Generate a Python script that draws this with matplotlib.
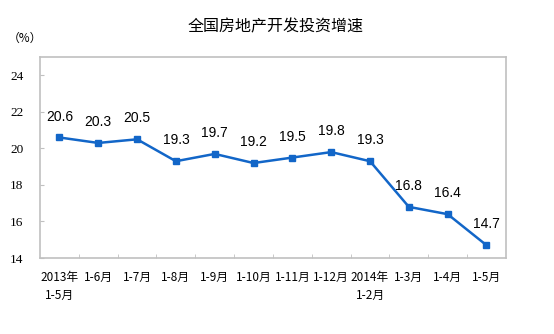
import matplotlib
matplotlib.use("Agg")
import matplotlib.pyplot as plt
import numpy as np

plt.rcParams['font.family'] = ['Noto Sans CJK SC', 'DejaVu Sans']

# data
labels = ["2013年\n1-5月", "1-6月", "1-7月", "1-8月", "1-9月", "1-10月",
          "1-11月", "1-12月", "2014年\n1-2月", "1-3月", "1-4月", "1-5月"]
values = [20.6, 20.3, 20.5, 19.3, 19.7, 19.2, 19.5, 19.8, 19.3, 16.8, 16.4, 14.7]
yticks = [14, 16, 18, 20, 22, 24]

fig = plt.figure(figsize=(5.54, 3.34), dpi=100)
ax = fig.add_axes([0.0722, 0.2275, 0.841, 0.6015])

x = np.arange(len(values))
color = "#1266c8"
ax.plot(x, values, color=color, lw=1.8, marker="s", ms=4.8, mec=color, mfc=color)

for xi, v in zip(x, values):
    ax.annotate(f"{v:.1f}", (xi, v), xytext=(0, 10), textcoords="offset points",
                ha="center", va="bottom", fontsize=10, color="black",
                family=["Liberation Sans"])

ax.set_xlim(-0.5, len(values) - 0.5)
ax.set_ylim(14, 25)
ax.set_yticks(yticks)
ax.set_yticklabels([str(t) for t in yticks], family=["Liberation Serif"], fontsize=9.5)
ax.set_xticks(x)
ax.set_xticklabels(labels, fontsize=8.5, linespacing=1.5)
ax.set_xticks(np.arange(0.5, len(values) - 0.5, 1), minor=True)
ax.tick_params(axis="x", which="major", length=0, pad=9)
ax.tick_params(axis="x", which="minor", direction="in", length=3, color="#c0c0c0")
ax.tick_params(axis="y", direction="in", length=3, color="#c0c0c0", pad=12)

for s in ax.spines.values():
    s.set_color("#c0c0c0")
    s.set_linewidth(1.2)

fig.text(0.497, 0.92, "全国房地产开发投资增速", ha="center", va="center", fontsize=11.5)
fig.text(0.045, 0.885, "（%）", ha="center", va="center", fontsize=8.5)

fig.savefig("out.png", dpi=100)
